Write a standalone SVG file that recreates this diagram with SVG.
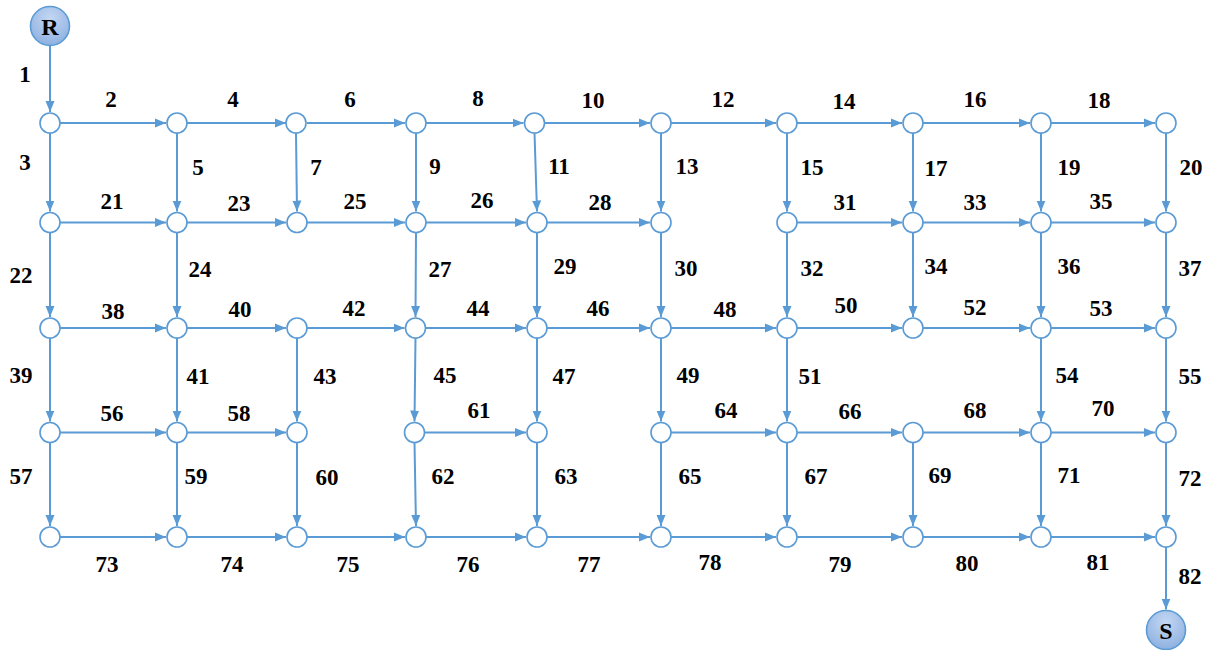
<svg xmlns="http://www.w3.org/2000/svg" width="1215" height="650" viewBox="0 0 1215 650">
<style>
.e{stroke:#5b9bd5;stroke-width:2;fill:none;marker-end:url(#ah)}
.n{fill:#ffffff;stroke:#5b9bd5;stroke-width:1.6}
.t{font-family:"Liberation Serif","Times New Roman",serif;font-weight:bold;font-size:23px;fill:#000;text-anchor:middle}
.big{fill:url(#gr);stroke:#5b9bd5;stroke-width:1.6}
.bt{font-family:"Liberation Serif","Times New Roman",serif;font-weight:bold;font-size:24px;fill:#000;text-anchor:middle}
</style>
<defs>
<marker id="ah" markerUnits="userSpaceOnUse" markerWidth="12" markerHeight="10" refX="11" refY="5" orient="auto">
<path d="M0,0.5 L11,5 L0,9.5 z" fill="#5b9bd5"/>
</marker>
<radialGradient id="gr" cx="0.5" cy="0.3" r="0.75">
<stop offset="0" stop-color="#c4d7f3"/>
<stop offset="1" stop-color="#8aaedf"/>
</radialGradient>
</defs>
<rect width="1215" height="650" fill="#ffffff"/>
<g id="connectors">
<line class="e" x1="50" y1="46" x2="50" y2="112"/>
<line class="e" x1="60" y1="123" x2="166" y2="123"/>
<line class="e" x1="187" y1="123" x2="286" y2="123"/>
<line class="e" x1="307" y1="123" x2="405" y2="123"/>
<line class="e" x1="426" y1="123" x2="523.5" y2="123"/>
<line class="e" x1="544.5" y1="123" x2="650" y2="123"/>
<line class="e" x1="671" y1="123" x2="776" y2="123"/>
<line class="e" x1="797" y1="123" x2="902" y2="123"/>
<line class="e" x1="923" y1="123" x2="1030" y2="123"/>
<line class="e" x1="1051" y1="123" x2="1155" y2="123"/>
<line class="e" x1="50" y1="133" x2="50" y2="211.5"/>
<line class="e" x1="177" y1="133" x2="177" y2="211.5"/>
<line class="e" x1="296" y1="133" x2="297" y2="211.5"/>
<line class="e" x1="416" y1="133" x2="416" y2="211.5"/>
<line class="e" x1="534.5" y1="133" x2="537" y2="211.5"/>
<line class="e" x1="661" y1="133" x2="661" y2="211.5"/>
<line class="e" x1="787" y1="133" x2="787" y2="211.5"/>
<line class="e" x1="913" y1="133" x2="913" y2="211.5"/>
<line class="e" x1="1041" y1="133" x2="1041" y2="211.5"/>
<line class="e" x1="1166" y1="133" x2="1166" y2="211.5"/>
<line class="e" x1="60" y1="222.5" x2="166" y2="222.5"/>
<line class="e" x1="187" y1="222.5" x2="286" y2="222.5"/>
<line class="e" x1="307" y1="222.5" x2="405" y2="222.5"/>
<line class="e" x1="426" y1="222.5" x2="526" y2="222.5"/>
<line class="e" x1="547" y1="222.5" x2="650" y2="222.5"/>
<line class="e" x1="797" y1="222.5" x2="902" y2="222.5"/>
<line class="e" x1="923" y1="222.5" x2="1030" y2="222.5"/>
<line class="e" x1="1051" y1="222.5" x2="1155" y2="222.5"/>
<line class="e" x1="50" y1="232.5" x2="50" y2="317"/>
<line class="e" x1="177" y1="232.5" x2="177" y2="317"/>
<line class="e" x1="416" y1="232.5" x2="415.5" y2="317"/>
<line class="e" x1="537" y1="232.5" x2="537" y2="317"/>
<line class="e" x1="661" y1="232.5" x2="661" y2="317"/>
<line class="e" x1="787" y1="232.5" x2="787" y2="317"/>
<line class="e" x1="913" y1="232.5" x2="913" y2="317"/>
<line class="e" x1="1041" y1="232.5" x2="1041" y2="317"/>
<line class="e" x1="1166" y1="232.5" x2="1166" y2="317"/>
<line class="e" x1="60" y1="328" x2="166" y2="328"/>
<line class="e" x1="187" y1="328" x2="286" y2="328"/>
<line class="e" x1="307" y1="328" x2="404.5" y2="328"/>
<line class="e" x1="425.5" y1="328" x2="526" y2="328"/>
<line class="e" x1="547" y1="328" x2="650" y2="328"/>
<line class="e" x1="671" y1="328" x2="776" y2="328"/>
<line class="e" x1="797" y1="328" x2="902" y2="328"/>
<line class="e" x1="923" y1="328" x2="1030" y2="328"/>
<line class="e" x1="1051" y1="328" x2="1155" y2="328"/>
<line class="e" x1="50" y1="338" x2="50" y2="421.5"/>
<line class="e" x1="177" y1="338" x2="177" y2="421.5"/>
<line class="e" x1="297" y1="338" x2="297" y2="421.5"/>
<line class="e" x1="415.5" y1="338" x2="414.5" y2="421.5"/>
<line class="e" x1="537" y1="338" x2="537" y2="421.5"/>
<line class="e" x1="661" y1="338" x2="661" y2="421.5"/>
<line class="e" x1="787" y1="338" x2="787" y2="421.5"/>
<line class="e" x1="1041" y1="338" x2="1041" y2="421.5"/>
<line class="e" x1="1166" y1="338" x2="1166" y2="421.5"/>
<line class="e" x1="60" y1="432.5" x2="166" y2="432.5"/>
<line class="e" x1="187" y1="432.5" x2="286" y2="432.5"/>
<line class="e" x1="424.5" y1="432.5" x2="526" y2="432.5"/>
<line class="e" x1="671" y1="432.5" x2="776" y2="432.5"/>
<line class="e" x1="797" y1="432.5" x2="902" y2="432.5"/>
<line class="e" x1="923" y1="432.5" x2="1030" y2="432.5"/>
<line class="e" x1="1051" y1="432.5" x2="1155" y2="432.5"/>
<line class="e" x1="50" y1="442.5" x2="50" y2="526"/>
<line class="e" x1="177" y1="442.5" x2="177" y2="526"/>
<line class="e" x1="297" y1="442.5" x2="297" y2="526"/>
<line class="e" x1="414.5" y1="442.5" x2="416" y2="526"/>
<line class="e" x1="537" y1="442.5" x2="537" y2="526"/>
<line class="e" x1="661" y1="442.5" x2="661" y2="526"/>
<line class="e" x1="787" y1="442.5" x2="787" y2="526"/>
<line class="e" x1="913" y1="442.5" x2="913" y2="526"/>
<line class="e" x1="1041" y1="442.5" x2="1041" y2="526"/>
<line class="e" x1="1166" y1="442.5" x2="1166" y2="526"/>
<line class="e" x1="60" y1="537" x2="166" y2="537"/>
<line class="e" x1="187" y1="537" x2="286" y2="537"/>
<line class="e" x1="307" y1="537" x2="405" y2="537"/>
<line class="e" x1="426" y1="537" x2="526" y2="537"/>
<line class="e" x1="547" y1="537" x2="650" y2="537"/>
<line class="e" x1="671" y1="537" x2="776" y2="537"/>
<line class="e" x1="797" y1="537" x2="902" y2="537"/>
<line class="e" x1="923" y1="537" x2="1030" y2="537"/>
<line class="e" x1="1051" y1="537" x2="1155" y2="537"/>
<line class="e" x1="1166" y1="547" x2="1166" y2="609.5"/>
</g>
<g id="edge-labels">
<text class="t" x="25" y="82">1</text>
<text class="t" x="111" y="107">2</text>
<text class="t" x="233" y="107">4</text>
<text class="t" x="350" y="107">6</text>
<text class="t" x="478" y="106">8</text>
<text class="t" x="593" y="108">10</text>
<text class="t" x="723" y="107">12</text>
<text class="t" x="844" y="109">14</text>
<text class="t" x="975" y="107">16</text>
<text class="t" x="1099" y="108">18</text>
<text class="t" x="25" y="170">3</text>
<text class="t" x="198" y="175">5</text>
<text class="t" x="316" y="175">7</text>
<text class="t" x="435" y="174">9</text>
<text class="t" x="559" y="174">11</text>
<text class="t" x="687" y="174">13</text>
<text class="t" x="812" y="175">15</text>
<text class="t" x="936" y="176">17</text>
<text class="t" x="1069" y="175">19</text>
<text class="t" x="1191" y="175">20</text>
<text class="t" x="112" y="209">21</text>
<text class="t" x="239" y="211">23</text>
<text class="t" x="355" y="209">25</text>
<text class="t" x="482" y="208">26</text>
<text class="t" x="600" y="210">28</text>
<text class="t" x="845" y="210">31</text>
<text class="t" x="975" y="210">33</text>
<text class="t" x="1101" y="209">35</text>
<text class="t" x="21" y="283">22</text>
<text class="t" x="200" y="277">24</text>
<text class="t" x="440" y="277">27</text>
<text class="t" x="565" y="274">29</text>
<text class="t" x="686" y="276">30</text>
<text class="t" x="812" y="276">32</text>
<text class="t" x="936" y="274">34</text>
<text class="t" x="1069" y="274">36</text>
<text class="t" x="1190" y="276">37</text>
<text class="t" x="113" y="319">38</text>
<text class="t" x="240" y="317">40</text>
<text class="t" x="354" y="316">42</text>
<text class="t" x="478" y="316">44</text>
<text class="t" x="598" y="316">46</text>
<text class="t" x="725" y="317">48</text>
<text class="t" x="846" y="313">50</text>
<text class="t" x="975" y="315">52</text>
<text class="t" x="1101" y="316">53</text>
<text class="t" x="21" y="383">39</text>
<text class="t" x="198" y="384">41</text>
<text class="t" x="325" y="384">43</text>
<text class="t" x="445" y="383">45</text>
<text class="t" x="564" y="384">47</text>
<text class="t" x="688" y="383">49</text>
<text class="t" x="810" y="384">51</text>
<text class="t" x="1067" y="383">54</text>
<text class="t" x="1190" y="384">55</text>
<text class="t" x="112" y="421">56</text>
<text class="t" x="239" y="421">58</text>
<text class="t" x="479" y="418">61</text>
<text class="t" x="726" y="418">64</text>
<text class="t" x="850" y="419">66</text>
<text class="t" x="975" y="418">68</text>
<text class="t" x="1103" y="416">70</text>
<text class="t" x="21" y="484">57</text>
<text class="t" x="196" y="484">59</text>
<text class="t" x="327" y="485">60</text>
<text class="t" x="443" y="484">62</text>
<text class="t" x="566" y="484">63</text>
<text class="t" x="690" y="484">65</text>
<text class="t" x="816" y="484">67</text>
<text class="t" x="940" y="483">69</text>
<text class="t" x="1069" y="483">71</text>
<text class="t" x="1190" y="486">72</text>
<text class="t" x="107" y="572">73</text>
<text class="t" x="232" y="572">74</text>
<text class="t" x="348" y="572">75</text>
<text class="t" x="468" y="572">76</text>
<text class="t" x="589" y="572">77</text>
<text class="t" x="710" y="570">78</text>
<text class="t" x="840" y="572">79</text>
<text class="t" x="967" y="571">80</text>
<text class="t" x="1098" y="570">81</text>
<text class="t" x="1190" y="584">82</text>
</g>
<g id="R"><circle class="big" cx="50" cy="26" r="19.5"/><text class="bt" x="50" y="34.5">R</text></g>
<g id="S"><circle class="big" cx="1166" cy="630" r="19.5"/><text class="bt" x="1166" y="638.5">S</text></g>
<g id="n1-1"><circle class="n" cx="50" cy="123" r="10"/></g>
<g id="n2-1"><circle class="n" cx="177" cy="123" r="10"/></g>
<g id="n3-1"><circle class="n" cx="296" cy="123" r="10"/></g>
<g id="n4-1"><circle class="n" cx="416" cy="123" r="10"/></g>
<g id="n5-1"><circle class="n" cx="534.5" cy="123" r="10"/></g>
<g id="n6-1"><circle class="n" cx="661" cy="123" r="10"/></g>
<g id="n7-1"><circle class="n" cx="787" cy="123" r="10"/></g>
<g id="n8-1"><circle class="n" cx="913" cy="123" r="10"/></g>
<g id="n9-1"><circle class="n" cx="1041" cy="123" r="10"/></g>
<g id="n10-1"><circle class="n" cx="1166" cy="123" r="10"/></g>
<g id="n1-2"><circle class="n" cx="50" cy="222.5" r="10"/></g>
<g id="n2-2"><circle class="n" cx="177" cy="222.5" r="10"/></g>
<g id="n3-2"><circle class="n" cx="297" cy="222.5" r="10"/></g>
<g id="n4-2"><circle class="n" cx="416" cy="222.5" r="10"/></g>
<g id="n5-2"><circle class="n" cx="537" cy="222.5" r="10"/></g>
<g id="n6-2"><circle class="n" cx="661" cy="222.5" r="10"/></g>
<g id="n7-2"><circle class="n" cx="787" cy="222.5" r="10"/></g>
<g id="n8-2"><circle class="n" cx="913" cy="222.5" r="10"/></g>
<g id="n9-2"><circle class="n" cx="1041" cy="222.5" r="10"/></g>
<g id="n10-2"><circle class="n" cx="1166" cy="222.5" r="10"/></g>
<g id="n1-3"><circle class="n" cx="50" cy="328" r="10"/></g>
<g id="n2-3"><circle class="n" cx="177" cy="328" r="10"/></g>
<g id="n3-3"><circle class="n" cx="297" cy="328" r="10"/></g>
<g id="n4-3"><circle class="n" cx="415.5" cy="328" r="10"/></g>
<g id="n5-3"><circle class="n" cx="537" cy="328" r="10"/></g>
<g id="n6-3"><circle class="n" cx="661" cy="328" r="10"/></g>
<g id="n7-3"><circle class="n" cx="787" cy="328" r="10"/></g>
<g id="n8-3"><circle class="n" cx="913" cy="328" r="10"/></g>
<g id="n9-3"><circle class="n" cx="1041" cy="328" r="10"/></g>
<g id="n10-3"><circle class="n" cx="1166" cy="328" r="10"/></g>
<g id="n1-4"><circle class="n" cx="50" cy="432.5" r="10"/></g>
<g id="n2-4"><circle class="n" cx="177" cy="432.5" r="10"/></g>
<g id="n3-4"><circle class="n" cx="297" cy="432.5" r="10"/></g>
<g id="n4-4"><circle class="n" cx="414.5" cy="432.5" r="10"/></g>
<g id="n5-4"><circle class="n" cx="537" cy="432.5" r="10"/></g>
<g id="n6-4"><circle class="n" cx="661" cy="432.5" r="10"/></g>
<g id="n7-4"><circle class="n" cx="787" cy="432.5" r="10"/></g>
<g id="n8-4"><circle class="n" cx="913" cy="432.5" r="10"/></g>
<g id="n9-4"><circle class="n" cx="1041" cy="432.5" r="10"/></g>
<g id="n10-4"><circle class="n" cx="1166" cy="432.5" r="10"/></g>
<g id="n1-5"><circle class="n" cx="50" cy="537" r="10"/></g>
<g id="n2-5"><circle class="n" cx="177" cy="537" r="10"/></g>
<g id="n3-5"><circle class="n" cx="297" cy="537" r="10"/></g>
<g id="n4-5"><circle class="n" cx="416" cy="537" r="10"/></g>
<g id="n5-5"><circle class="n" cx="537" cy="537" r="10"/></g>
<g id="n6-5"><circle class="n" cx="661" cy="537" r="10"/></g>
<g id="n7-5"><circle class="n" cx="787" cy="537" r="10"/></g>
<g id="n8-5"><circle class="n" cx="913" cy="537" r="10"/></g>
<g id="n9-5"><circle class="n" cx="1041" cy="537" r="10"/></g>
<g id="n10-5"><circle class="n" cx="1166" cy="537" r="10"/></g>
</svg>
